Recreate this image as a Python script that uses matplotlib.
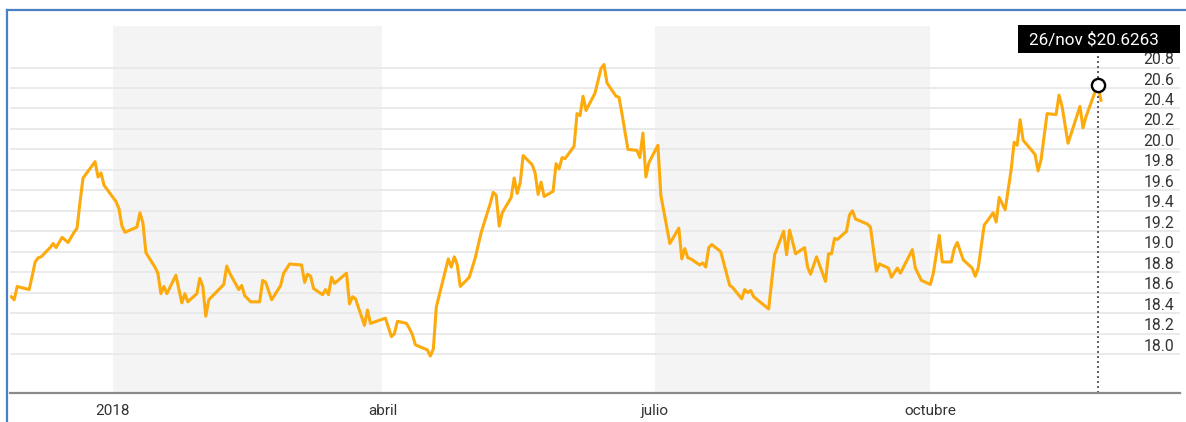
import matplotlib
matplotlib.use("Agg")
import matplotlib.pyplot as plt
from matplotlib.patches import Rectangle
from matplotlib.lines import Line2D
import pandas as pd

plt.rcParams['font.family'] = ['Roboto', 'DejaVu Sans']

# precio diario
fechas = [
    "2017-11-28", "2017-11-29", "2017-11-30", "2017-12-04", "2017-12-05", "2017-12-06",
    "2017-12-07", "2017-12-08", "2017-12-11", "2017-12-12", "2017-12-13", "2017-12-15",
    "2017-12-17", "2017-12-19", "2017-12-20", "2017-12-21", "2017-12-22", "2017-12-26",
    "2017-12-27", "2017-12-28", "2017-12-29", "2018-01-02", "2018-01-03", "2018-01-04",
    "2018-01-05", "2018-01-09", "2018-01-10", "2018-01-11", "2018-01-12", "2018-01-15",
    "2018-01-16", "2018-01-17", "2018-01-18", "2018-01-19", "2018-01-22", "2018-01-24",
    "2018-01-25", "2018-01-26", "2018-01-29", "2018-01-30", "2018-01-31", "2018-02-01",
    "2018-02-02", "2018-02-07", "2018-02-08", "2018-02-09", "2018-02-12", "2018-02-13",
    "2018-02-14", "2018-02-16", "2018-02-19", "2018-02-20", "2018-02-21", "2018-02-23",
    "2018-02-26", "2018-02-27", "2018-03-01", "2018-03-05", "2018-03-06", "2018-03-07",
    "2018-03-08", "2018-03-09", "2018-03-12", "2018-03-13", "2018-03-14", "2018-03-15",
    "2018-03-16", "2018-03-20", "2018-03-21", "2018-03-22", "2018-03-23", "2018-03-26",
    "2018-03-27", "2018-03-28", "2018-04-02", "2018-04-04", "2018-04-05", "2018-04-06",
    "2018-04-09", "2018-04-10", "2018-04-11", "2018-04-12", "2018-04-16", "2018-04-17",
    "2018-04-18", "2018-04-19", "2018-04-23", "2018-04-24", "2018-04-25", "2018-04-26",
    "2018-04-27", "2018-04-30", "2018-05-02", "2018-05-04", "2018-05-07", "2018-05-08",
    "2018-05-09", "2018-05-10", "2018-05-11", "2018-05-14", "2018-05-15", "2018-05-16",
    "2018-05-17", "2018-05-18", "2018-05-21", "2018-05-22", "2018-05-23", "2018-05-24",
    "2018-05-25", "2018-05-28", "2018-05-29", "2018-05-30", "2018-05-31", "2018-06-01",
    "2018-06-04", "2018-06-05", "2018-06-06", "2018-06-07", "2018-06-08", "2018-06-11",
    "2018-06-13", "2018-06-14", "2018-06-15", "2018-06-18", "2018-06-19", "2018-06-20",
    "2018-06-22", "2018-06-25", "2018-06-26", "2018-06-27", "2018-06-28", "2018-06-29",
    "2018-07-02", "2018-07-03", "2018-07-06", "2018-07-09", "2018-07-10", "2018-07-11",
    "2018-07-12", "2018-07-13", "2018-07-16", "2018-07-17", "2018-07-18", "2018-07-19",
    "2018-07-20", "2018-07-23", "2018-07-26", "2018-07-27", "2018-07-30", "2018-07-31",
    "2018-08-01", "2018-08-02", "2018-08-03", "2018-08-08", "2018-08-10", "2018-08-13",
    "2018-08-14", "2018-08-15", "2018-08-17", "2018-08-20", "2018-08-21", "2018-08-22",
    "2018-08-24", "2018-08-27", "2018-08-28", "2018-08-29", "2018-08-30", "2018-08-31",
    "2018-09-03", "2018-09-04", "2018-09-05", "2018-09-06", "2018-09-10", "2018-09-11",
    "2018-09-13", "2018-09-14", "2018-09-17", "2018-09-18", "2018-09-20", "2018-09-21",
    "2018-09-25", "2018-09-26", "2018-09-28", "2018-10-01", "2018-10-02", "2018-10-04",
    "2018-10-05", "2018-10-08", "2018-10-09", "2018-10-10", "2018-10-12", "2018-10-15",
    "2018-10-16", "2018-10-17", "2018-10-19", "2018-10-22", "2018-10-23", "2018-10-24",
    "2018-10-26", "2018-10-28", "2018-10-29", "2018-10-30", "2018-10-31", "2018-11-01",
    "2018-11-05", "2018-11-06", "2018-11-07", "2018-11-09", "2018-11-12", "2018-11-13",
    "2018-11-14", "2018-11-16", "2018-11-20", "2018-11-21", "2018-11-22", "2018-11-25",
    "2018-11-26", "2018-11-27",
]
precios = [
    18.56, 18.53, 18.66, 18.63, 18.76, 18.90,
    18.94, 18.95, 19.04, 19.08, 19.04, 19.14,
    19.09, 19.19, 19.23, 19.49, 19.72, 19.88,
    19.73, 19.77, 19.65, 19.49, 19.42, 19.25,
    19.19, 19.24, 19.38, 19.28, 18.99, 18.85,
    18.79, 18.59, 18.66, 18.59, 18.77, 18.50,
    18.59, 18.51, 18.59, 18.74, 18.66, 18.37,
    18.53, 18.68, 18.86, 18.79, 18.63, 18.67,
    18.57, 18.51, 18.51, 18.72, 18.70, 18.53,
    18.67, 18.79, 18.88, 18.87, 18.70, 18.78,
    18.76, 18.64, 18.58, 18.63, 18.58, 18.75,
    18.69, 18.79, 18.49, 18.56, 18.54, 18.28,
    18.43, 18.30, 18.35, 18.17, 18.20, 18.32,
    18.30, 18.25, 18.19, 18.09, 18.04, 17.98,
    18.05, 18.46, 18.93, 18.85, 18.95, 18.87,
    18.66, 18.75, 18.94, 19.19, 19.47, 19.58,
    19.55, 19.25, 19.38, 19.53, 19.72, 19.57,
    19.67, 19.94, 19.85, 19.77, 19.56, 19.68,
    19.54, 19.59, 19.86, 19.81, 19.92, 19.91,
    20.03, 20.35, 20.33, 20.52, 20.38, 20.55,
    20.79, 20.83, 20.65, 20.52, 20.51, 20.35,
    20.00, 19.99, 19.92, 20.16, 19.73, 19.87,
    20.04, 19.55, 19.08, 19.23, 18.93, 19.03,
    18.94, 18.93, 18.87, 18.89, 18.85, 19.04,
    19.07, 19.00, 18.67, 18.65, 18.54, 18.63,
    18.60, 18.62, 18.56, 18.44, 18.97, 19.20,
    18.97, 19.21, 18.98, 19.04, 18.85, 18.78,
    18.95, 18.71, 18.98, 18.98, 19.13, 19.12,
    19.20, 19.36, 19.40, 19.32, 19.27, 19.24,
    18.81, 18.88, 18.84, 18.75, 18.84, 18.79,
    19.02, 18.84, 18.72, 18.68, 18.79, 19.16,
    18.90, 18.90, 19.03, 19.09, 18.92, 18.84,
    18.76, 18.84, 19.26, 19.38, 19.29, 19.53,
    19.41, 19.80, 20.07, 20.04, 20.29, 20.09,
    19.95, 19.79, 19.90, 20.35, 20.34, 20.53,
    20.42, 20.06, 20.42, 20.21, 20.32, 20.56,
    20.6263, 20.48,
]

fecha_sel = "2018-11-26"
precio_sel = 20.6263
etiqueta_sel = "26/nov $20.6263"

x_ticks = ["2018-01-01", "2018-04-01", "2018-07-01", "2018-10-01"]
x_labels = ["2018", "abril", "julio", "octubre"]
bandas = [("2018-01-01", "2018-04-01"), ("2018-07-01", "2018-10-01")]
y_ticks = [18.0, 18.2, 18.4, 18.6, 18.8, 19.0, 19.2, 19.4, 19.6, 19.8,
           20.0, 20.2, 20.4, 20.6, 20.8]

W, H = 1186, 422
fig = plt.figure(figsize=(W / 100, H / 100), dpi=100)
ax = fig.add_axes([10 / W, 1 - 393 / H, 1170 / W, 367 / H])

x = pd.to_datetime(fechas)
base = pd.Timestamp("2018-01-01")
ax.set_xlim(base - pd.Timedelta(days=34.4), base + pd.Timedelta(days=356.4))
ax.set_ylim(17.619, 21.206)

for a, b in bandas:
    ax.axvspan(pd.Timestamp(a), pd.Timestamp(b), color="#f4f4f4", lw=0, zorder=0)

for v in y_ticks:
    ax.axhline(v, color="#e8e8e8", lw=1.3, zorder=1)
    ax.annotate(f"{v:.1f}", xy=(0.9949, v), xycoords=ax.get_yaxis_transform(),
                xytext=(0, 2.5), textcoords="offset points",
                ha="right", va="baseline", fontsize=11.3, color="#333333")

ax.plot(x, precios, color="#fdaa0c", lw=2.2, zorder=3)

# marcador y línea punteada
xs = pd.Timestamp(fecha_sel)
ax.axvline(xs, ymin=0, ymax=(393 - 53) / 367, color="#444444", lw=1.2,
           ls=(0, (1.2, 1.8)), zorder=4)
ax.plot([xs], [precio_sel], "o", ms=9.5, mfc="white", mec="black", mew=1.7, zorder=5)

# tooltip
fig.add_artist(Rectangle((1018 / W, 1 - 53 / H), 162 / W, 28 / H,
                         transform=fig.transFigure, fc="black", ec="none", zorder=10))
fig.text(1094 / W, 1 - 39.5 / H, etiqueta_sel, color="white", fontsize=12.3,
         ha="center", va="center", zorder=11)

for s in ["top", "left", "right"]:
    ax.spines[s].set_visible(False)
ax.spines["bottom"].set_color("#8a8a8a")
ax.spines["bottom"].set_linewidth(1.6)
ax.spines["bottom"].set_zorder(6)

ax.set_yticks([])
ax.set_xticks(pd.to_datetime(x_ticks))
ax.set_xticklabels(x_labels, fontsize=11, color="#333333")
ax.tick_params(axis="x", length=0, pad=8)

# marco azul de la captura
fig.add_artist(Line2D([7 / W, 1], [1 - 10 / H, 1 - 10 / H], transform=fig.transFigure,
                      color="#4a7fc1", lw=1.6))
fig.add_artist(Line2D([7 / W, 7 / W], [0, 1 - 10 / H], transform=fig.transFigure,
                      color="#4a7fc1", lw=1.6))

fig.savefig("out.png", dpi=100)
